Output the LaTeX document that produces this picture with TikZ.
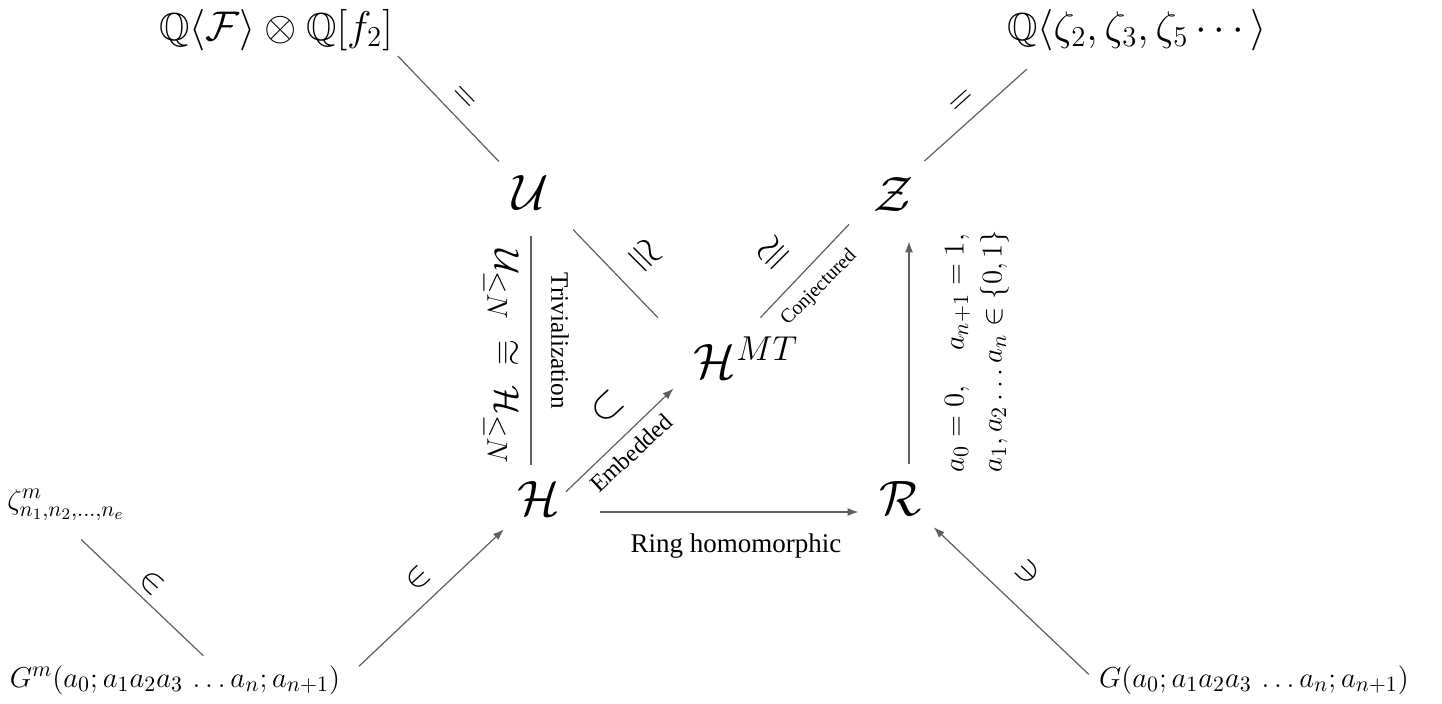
\documentclass[tikz,border=0pt]{standalone}
\usepackage{amsmath,amssymb}
\usepackage{fontspec}
\setmainfont{Liberation Serif}
\usepackage{tikz}
\usetikzlibrary{arrows.meta,calc,positioning}
\definecolor{linegray}{RGB}{95,95,95}
\newcommand{\fs}[1]{\fontsize{#1}{#1}\selectfont}

\begin{document}
\begin{tikzpicture}[x=0.5pt,y=-0.5pt,>=Latex,
  obj/.style={font=\fs{26},inner sep=2pt},
  setlbl/.style={font=\fs{19.5},inner sep=1pt},
  elt/.style={font=\fs{15.5},inner sep=2pt},
  conn/.style={draw=linegray,line width=0.6pt},
  arr/.style={conn,-{Latex[length=5.5pt,width=4pt]}},
  eqsym/.style={font=\fs{17},inner sep=0pt},
  isosym/.style={font=\fs{22},inner sep=0pt},
  elsym/.style={font=\fs{17},inner sep=0pt}]
  \useasboundingbox (0,0) rectangle (1442,704);
  \node[setlbl] (QF) at (276,30) {$\mathbb{Q}\langle\mathcal{F}\rangle\otimes\mathbb{Q}[f_2]$};
  \node[setlbl] (QZ) at (1137,30) {$\mathbb{Q}\langle\zeta_2,\zeta_3,\zeta_5\cdots\rangle$};
  \node[obj] (U) at (531,193) {$\mathcal{U}$};
  \node[obj] (Z) at (894,195) {$\mathcal{Z}$};
  \node[obj] (Hmt) at (746,358) {$\mathcal{H}^{MT}$};
  \node[obj] (H) at (539,499) {$\mathcal{H}$};
  \node[obj] (R) at (901,499) {$\mathcal{R}$};
  \node[elt] (zeta) at (66,505) {$\zeta^m_{n_1,n_2,\dots,n_e}$};
  \node[elt] (Gm) at (175,680) {$G^m(a_0;a_1a_2a_3\,\ldots a_n;a_{n+1})$};
  \node[elt] (G) at (1254,680) {$G(a_0;a_1a_2a_3\,\ldots a_n;a_{n+1})$};
  \draw[conn,shorten <=2pt,shorten >=7pt] (QF.south east) -- (U.north west);
  \draw[conn,shorten <=9.5pt,shorten >=12pt] ([xshift=-4pt]Z.north east) -- ([xshift=20pt]QZ.south west);
  \draw[conn,shorten <=11pt,shorten >=6.5pt] (U.south) -- (U.south |- H.north);
  \draw[conn,shorten <=10.5pt,shorten >=10.5pt] ([xshift=2.5pt]U.south east) -- ([xshift=-8.5pt]Hmt.north west);
  \draw[conn,shorten <=10.5pt,shorten >=5.5pt] (Hmt.north) -- ([xshift=-6.5pt]Z.south west);
  \draw[arr,shorten <=1pt,shorten >=11pt] ([yshift=3pt]H.east) -- ([yshift=5pt]Hmt.south west);
  \draw[arr,shorten <=17.5pt,shorten >=8.5pt] ([yshift=-6.5pt]H.east) -- ([yshift=-6.5pt]R.west);
  \draw[arr,shorten <=7pt,shorten >=12.5pt] ([xshift=4pt]R.north) -- ([xshift=4pt]R.north |- Z.south);
  \draw[arr,shorten <=10pt,shorten >=6.5pt] (Gm.east) -- (H.south west);
  \draw[conn,shorten <=10.5pt,shorten >=4pt] (zeta.south) -- ([xshift=17pt]Gm.north);
  \draw[arr,shorten <=4pt,shorten >=5pt] (G.west) -- (R.south east);
  \node[eqsym,rotate=-46] (eqL) at (463,98) {$=$};
  \node[eqsym,rotate=42] (eqR) at (963,102) {$=$};
  \node[isosym,rotate=-45] (isoUH) at (643,257) {$\cong$};
  \node[isosym,rotate=45] (isoHZ) at (775,255) {$\cong$};
  \node[font=\fs{10},inner sep=1pt,rotate=45] (conj) at (819,288) {Conjectured};
  \node[font=\fs{22},inner sep=0pt,rotate=43] (subH) at (607,407) {$\subset$};
  \node[font=\fs{12},inner sep=1pt,rotate=43] (emb) at (631,453) {Embedded};
  \node[elsym,rotate=-42] (inL) at (152,583) {$\in$};
  \node[elsym,rotate=43] (inM) at (418,578) {$\in$};
  \node[elsym,rotate=-44] (niR) at (1028,572) {$\ni$};
  \node[font=\fs{13.5}] (ring) at (736,546) {Ring homomorphic};
  \node[font=\fs{19},rotate=-90] (trivmath) at (501,357) {$\mathcal{U}_{\leq N}\;\cong\;\mathcal{H}_{\leq N}$};
  \node[font=\fs{12.6},rotate=-90] (triv) at (560,341) {Trivialization};
  \node[font=\fontsize{15}{19}\selectfont,rotate=90,align=left] (cond) at (977,351) {$a_0=0,\quad a_{n+1}=1,$\\$a_1,a_2\ldots a_n\in\{0,1\}$};
\end{tikzpicture}
\end{document}
